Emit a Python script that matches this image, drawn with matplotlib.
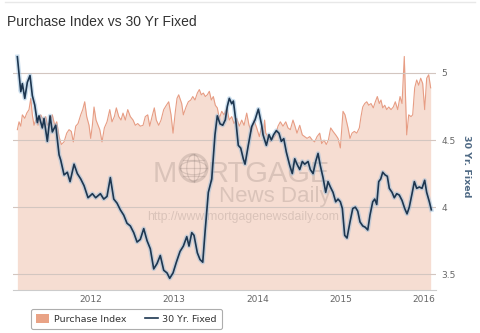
import matplotlib
matplotlib.use("Agg")
import matplotlib.pyplot as plt
from matplotlib.patches import Patch, Ellipse
from matplotlib.lines import Line2D

# MBA purchase index, weekly readings (decimal year, index)
purchase_t = [
    2011.115, 2011.135, 2011.156, 2011.175, 2011.204, 2011.228, 2011.255, 2011.276,
    2011.295, 2011.315, 2011.347, 2011.363, 2011.396, 2011.427, 2011.456, 2011.475,
    2011.508, 2011.535, 2011.564, 2011.588, 2011.616, 2011.643, 2011.676, 2011.708,
    2011.736, 2011.763, 2011.787, 2011.816, 2011.844, 2011.876, 2011.900, 2011.924,
    2011.948, 2011.976, 2011.996, 2012.016, 2012.036, 2012.060, 2012.084, 2012.105,
    2012.132, 2012.160, 2012.192, 2012.225, 2012.252, 2012.280, 2012.304, 2012.333,
    2012.360, 2012.384, 2012.412, 2012.441, 2012.472, 2012.505, 2012.532, 2012.561,
    2012.592, 2012.625, 2012.652, 2012.681, 2012.705, 2012.733, 2012.760, 2012.784,
    2012.813, 2012.841, 2012.873, 2012.905, 2012.933, 2012.961, 2012.985, 2013.013,
    2013.033, 2013.053, 2013.089, 2013.109, 2013.141, 2013.169, 2013.198, 2013.222,
    2013.249, 2013.277, 2013.301, 2013.325, 2013.349, 2013.373, 2013.397, 2013.421,
    2013.445, 2013.469, 2013.493, 2013.517, 2013.541, 2013.570, 2013.598, 2013.630,
    2013.661, 2013.690, 2013.718, 2013.750, 2013.781, 2013.810, 2013.838, 2013.870,
    2013.898, 2013.926, 2013.958, 2013.990, 2014.022, 2014.050, 2014.072, 2014.085,
    2014.099, 2014.126, 2014.154, 2014.186, 2014.218, 2014.246, 2014.274, 2014.306,
    2014.339, 2014.366, 2014.394, 2014.426, 2014.450, 2014.474, 2014.507, 2014.538,
    2014.567, 2014.595, 2014.627, 2014.658, 2014.687, 2014.715, 2014.747, 2014.771,
    2014.799, 2014.826, 2014.851, 2014.879, 2014.907, 2014.939, 2014.967, 2014.995,
    2015.027, 2015.051, 2015.075, 2015.087, 2015.111, 2015.135, 2015.163, 2015.192,
    2015.223, 2015.243, 2015.264, 2015.288, 2015.312, 2015.336, 2015.363, 2015.391,
    2015.415, 2015.439, 2015.463, 2015.483, 2015.504, 2015.528, 2015.552, 2015.576,
    2015.604, 2015.631, 2015.655, 2015.684, 2015.712, 2015.736, 2015.763, 2015.792,
    2015.816, 2015.844, 2015.864, 2015.888, 2015.912, 2015.936, 2015.960, 2015.984,
    2016.008, 2016.032, 2016.056, 2016.080,
]
purchase_v = [
    184, 193, 188, 201, 197, 203, 207, 220,
    201, 189, 199, 189, 201, 195, 199, 189,
    193, 201, 189, 193, 176, 167, 170, 180,
    184, 182, 170, 188, 191, 201, 207, 216,
    199, 189, 174, 189, 210, 195, 189, 184,
    170, 186, 193, 207, 193, 199, 209, 199,
    195, 203, 195, 207, 199, 195, 189, 191,
    188, 189, 199, 201, 188, 199, 209, 195,
    189, 195, 207, 212, 216, 201, 180, 205,
    220, 224, 214, 201, 210, 216, 218, 222,
    218, 226, 230, 224, 226, 222, 224, 228,
    218, 222, 212, 209, 197, 205, 201, 209,
    195, 199, 191, 197, 188, 195, 189, 203,
    189, 182, 195, 186, 176, 188, 178, 195,
    180, 176, 170, 174, 178, 188, 193, 188,
    193, 186, 184, 195, 188, 180, 189, 178,
    176, 174, 176, 172, 170, 176, 180, 168,
    172, 167, 172, 186, 182, 178, 174, 163,
    205, 201, 191, 186, 174, 180, 182, 180,
    186, 199, 210, 214, 216, 212, 214, 209,
    216, 222, 214, 218, 209, 212, 207, 210,
    207, 210, 216, 207, 222, 214, 268, 178,
    201, 199, 201, 232, 241, 235, 243, 237,
    207, 243, 247, 232,
]

# 30 year fixed rate, percent (decimal year, rate)
rate_t = [
    2011.115, 2011.156, 2011.175, 2011.204, 2011.235, 2011.267, 2011.295, 2011.324,
    2011.355, 2011.375, 2011.415, 2011.435, 2011.475, 2011.508, 2011.535, 2011.576,
    2011.616, 2011.636, 2011.676, 2011.715, 2011.748, 2011.796, 2011.835, 2011.876,
    2011.916, 2011.964, 2012.016, 2012.056, 2012.112, 2012.153, 2012.192, 2012.232,
    2012.273, 2012.312, 2012.352, 2012.393, 2012.432, 2012.472, 2012.513, 2012.553,
    2012.592, 2012.633, 2012.673, 2012.712, 2012.753, 2012.793, 2012.832, 2012.873,
    2012.913, 2012.945, 2012.985, 2013.025, 2013.069, 2013.109, 2013.150, 2013.177,
    2013.210, 2013.237, 2013.277, 2013.309, 2013.342, 2013.369, 2013.409, 2013.450,
    2013.489, 2013.517, 2013.550, 2013.582, 2013.613, 2013.637, 2013.661, 2013.690,
    2013.710, 2013.742, 2013.769, 2013.798, 2013.829, 2013.850, 2013.889, 2013.930,
    2013.970, 2014.010, 2014.050, 2014.066, 2014.106, 2014.138, 2014.166, 2014.194,
    2014.226, 2014.258, 2014.286, 2014.315, 2014.346, 2014.387, 2014.418, 2014.447,
    2014.474, 2014.507, 2014.538, 2014.567, 2014.607, 2014.634, 2014.667, 2014.699,
    2014.727, 2014.754, 2014.787, 2014.819, 2014.847, 2014.875, 2014.907, 2014.939,
    2014.967, 2014.995, 2015.019, 2015.047, 2015.075, 2015.111, 2015.144, 2015.175,
    2015.204, 2015.231, 2015.264, 2015.295, 2015.324, 2015.351, 2015.384, 2015.408,
    2015.432, 2015.456, 2015.480, 2015.504, 2015.532, 2015.559, 2015.583, 2015.616,
    2015.643, 2015.672, 2015.703, 2015.736, 2015.768, 2015.796, 2015.823, 2015.856,
    2015.884, 2015.912, 2015.944, 2015.976, 2016.008, 2016.032, 2016.064, 2016.088,
]
rate_v = [
    5.12, 4.86, 4.92, 4.81, 4.93, 4.98, 4.83, 4.76,
    4.63, 4.68, 4.59, 4.66, 4.49, 4.68, 4.56, 4.61,
    4.39, 4.35, 4.24, 4.26, 4.19, 4.32, 4.25, 4.21,
    4.16, 4.07, 4.10, 4.07, 4.10, 4.06, 4.08, 4.22,
    4.06, 4.03, 3.98, 3.94, 3.88, 3.86, 3.81, 3.74,
    3.76, 3.84, 3.75, 3.69, 3.54, 3.58, 3.64, 3.53,
    3.51, 3.47, 3.51, 3.59, 3.67, 3.71, 3.78, 3.71,
    3.81, 3.79, 3.66, 3.61, 3.59, 3.81, 4.11, 4.21,
    4.54, 4.68, 4.62, 4.61, 4.65, 4.75, 4.81, 4.77,
    4.79, 4.63, 4.46, 4.44, 4.36, 4.32, 4.46, 4.60,
    4.65, 4.73, 4.61, 4.54, 4.46, 4.54, 4.50, 4.54,
    4.57, 4.55, 4.49, 4.51, 4.41, 4.31, 4.25, 4.36,
    4.32, 4.28, 4.34, 4.32, 4.34, 4.28, 4.25, 4.34,
    4.40, 4.31, 4.22, 4.11, 4.19, 4.15, 4.11, 4.04,
    4.06, 4.04, 3.99, 3.79, 3.77, 3.89, 3.99, 4.00,
    3.97, 3.89, 3.86, 3.85, 3.83, 3.94, 4.04, 4.06,
    4.02, 4.19, 4.21, 4.26, 4.24, 4.23, 4.14, 4.11,
    4.07, 4.10, 4.09, 4.05, 3.99, 3.95, 4.00, 4.10,
    4.19, 4.14, 4.15, 4.14, 4.20, 4.11, 4.04, 3.98,
]

year_ticks = [2012, 2013, 2014, 2015, 2016]
year_labels = ["2012", "2013", "2014", "2015", "2016"]
rate_ticks = [3.5, 4, 4.5, 5]
rate_labels = ["3.5", "4", "4.5", "5"]

W, H = 480, 333
fig = plt.figure(figsize=(W / 100, H / 100), dpi=100)
fig.patch.set_facecolor("white")


def fx(px):
    return px / W


def fy(py):
    return 1 - py / H


# plot box in pixels: left 12.7, right 436, top 46, bottom 290
ax_p = fig.add_axes([fx(12.7), fy(290), fx(436) - fx(12.7), fy(46) - fy(290)])
ax_r = ax_p.twinx()

# purchase index area (hidden left scale)
ax_p.fill_between(purchase_t, purchase_v, 0, color="#f6ddd2", lw=0, zorder=1)
ax_p.plot(purchase_t, purchase_v, color="#e79d84", lw=0.8, zorder=2)
ax_p.set_ylim(0, 280)
ax_p.set_xlim(2011.059, 2016.144)
ax_p.set_yticks([])
ax_p.set_xticks(year_ticks)
ax_p.set_xticklabels(year_labels)
ax_p.tick_params(axis="x", length=0, pad=3.5, labelsize=6.5, labelcolor="#666666")
for side in ["top", "left", "right"]:
    ax_p.spines[side].set_visible(False)
ax_p.spines["bottom"].set_color("#cccccc")
ax_p.spines["bottom"].set_linewidth(0.8)

# watermark
wm = dict(transform=fig.transFigure, color="#8a7a74", alpha=0.26,
          family="Liberation Sans", zorder=3)
ax_p.text(fx(153), fy(182), "M", fontsize=21, ha="left", va="baseline", **wm)
ax_p.text(fx(208), fy(182), "RTGAGE", fontsize=21, ha="left", va="baseline", **wm)
ax_p.text(fx(331), fy(202), "News Daily", fontsize=16, ha="right", va="baseline", **wm)
ax_p.text(fx(243), fy(220), "http://www.mortgagenewsdaily.com", fontsize=8.8,
          ha="center", va="baseline", **wm)
gx, gy, gr = 193.5, 168, 13.5
globe = dict(transform=fig.transFigure, fill=False, ec="#8a7a74", alpha=0.26, zorder=3)
ax_p.add_patch(Ellipse((fx(gx), fy(gy)), 2 * gr / W, 2 * gr / H, lw=2.2, **globe))
ax_p.add_patch(Ellipse((fx(gx), fy(gy)), gr / W, 2 * gr / H, lw=0.9, **globe))
ax_p.add_patch(Ellipse((fx(gx), fy(gy)), 2 * gr / W, gr / H, lw=0.9, **globe))
for dy in (-8, 0, 8):
    half = (gr ** 2 - dy ** 2) ** 0.5
    ax_p.add_artist(Line2D([fx(gx - half), fx(gx + half)], [fy(gy + dy)] * 2,
                           transform=fig.transFigure, color="#8a7a74", alpha=0.26, lw=0.9))
ax_p.add_artist(Line2D([fx(gx)] * 2, [fy(gy - gr), fy(gy + gr)],
                       transform=fig.transFigure, color="#8a7a74", alpha=0.26, lw=0.9))

# 30 yr fixed on the right scale
ax_r.plot(rate_t, rate_v, color="#8fb8da", lw=3.2, alpha=0.45, solid_joinstyle="round")
ax_r.plot(rate_t, rate_v, color="#1d3650", lw=1.2, solid_joinstyle="round")
ax_r.set_ylim(3.383, 5.2)
ax_r.set_yticks(rate_ticks)
ax_r.set_yticklabels(rate_labels)
ax_r.tick_params(axis="y", length=0, pad=4, labelsize=6.5, labelcolor="#666666")
ax_r.yaxis.grid(True, color="#d3c6c0", lw=0.8)
ax_r.set_axisbelow(True)
for side in ["top", "left", "right", "bottom"]:
    ax_r.spines[side].set_visible(False)

fig.text(fx(467), fy(166), "30 Yr. Fixed", rotation=270, ha="center", va="center",
         fontsize=6.8, fontweight="bold", color="#4f6a85")

fig.text(fx(7), fy(22.5), "Purchase Index vs 30 Yr Fixed", fontsize=10,
         family="Liberation Sans", color="#333333", ha="left", va="center")
fig.add_artist(Line2D([fx(5), fx(475)], [fy(1.5)] * 2, transform=fig.transFigure,
                      color="#e8e8e8", lw=1))

handles = [Patch(facecolor="#e9a386", edgecolor="none"),
           Line2D([], [], color="#1d3650", lw=1.2)]
leg = fig.legend(handles, ["Purchase Index", "30 Yr. Fixed"], ncol=2, loc="center",
                 bbox_to_anchor=(fx(126.5), fy(319)), fontsize=6.8,
                 handlelength=1.35, handleheight=1.0, handletextpad=0.5,
                 columnspacing=2.0, borderpad=0.55, frameon=True, fancybox=True)
leg.get_frame().set_edgecolor("#999999")
leg.get_frame().set_linewidth(0.8)
for t in leg.get_texts():
    t.set_color("#333333")

fig.savefig("out.png", dpi=100)
